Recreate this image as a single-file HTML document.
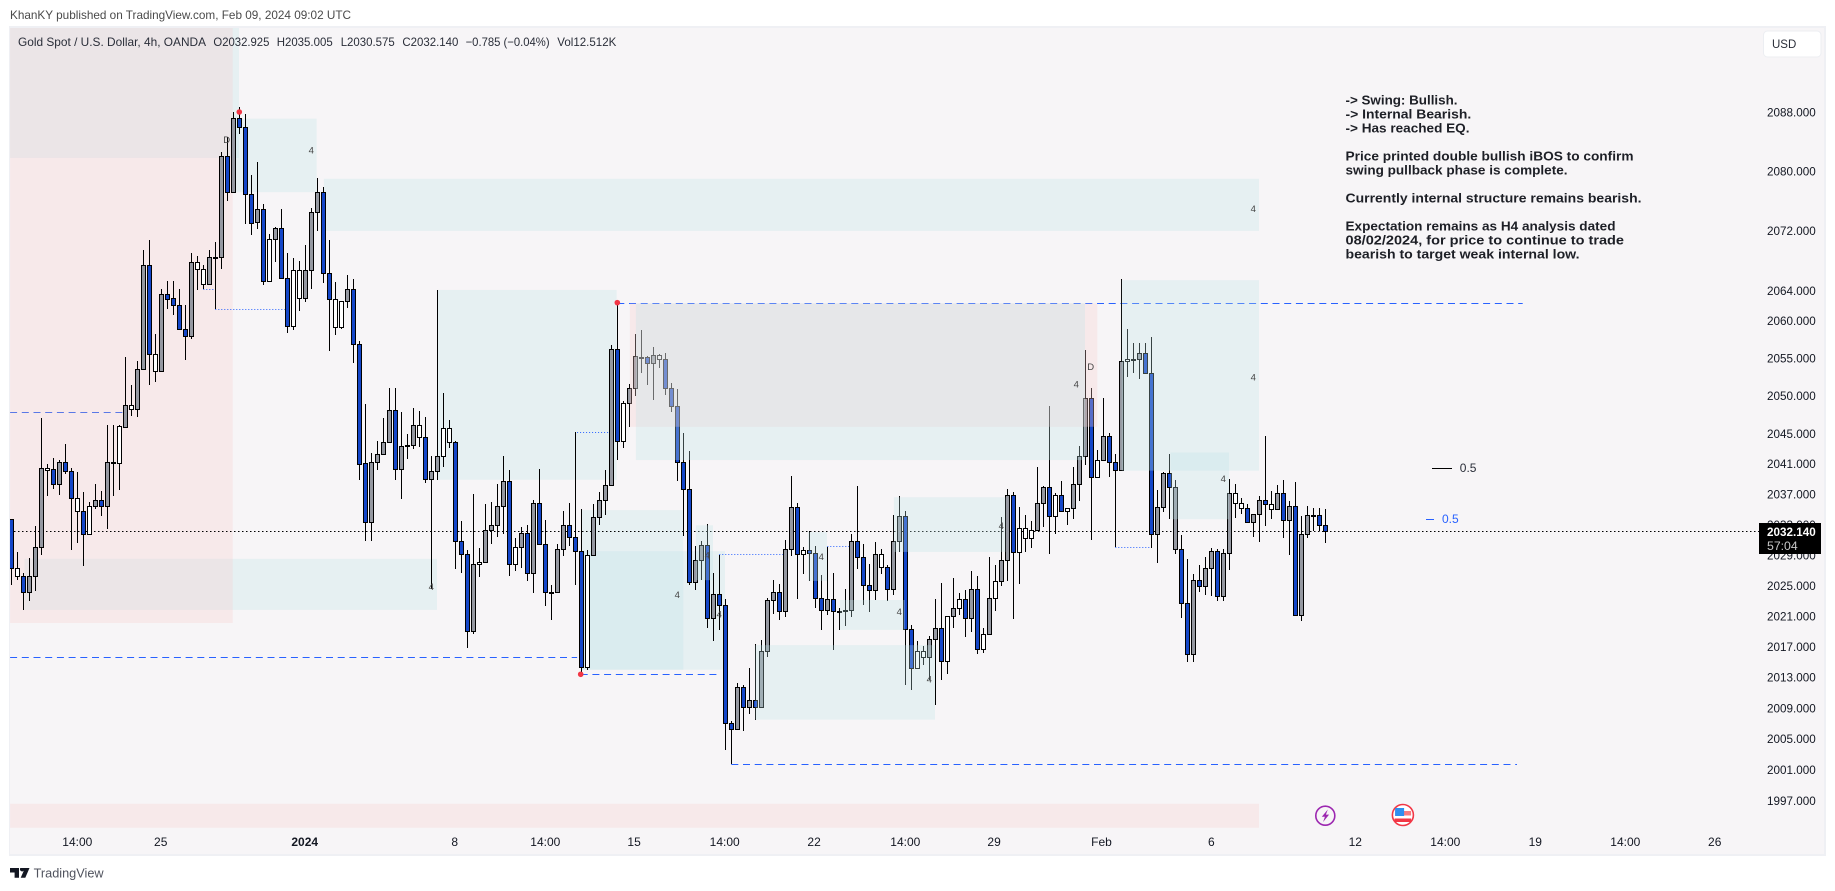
<!DOCTYPE html>
<html lang="en">
<head>
<meta charset="utf-8">
<title>Gold Spot / U.S. Dollar 4h chart</title>
<style>
html,body{margin:0;padding:0;background:#fff;width:1835px;height:891px;overflow:hidden}
svg{display:block}
text{font-family:"Liberation Sans",sans-serif}
</style>
</head>
<body>
<svg id="chart" xmlns="http://www.w3.org/2000/svg" width="1835" height="891" viewBox="0 0 1835 891">
  <defs><clipPath id="plot-clip"><rect x="10" y="28" width="1749" height="826"/></clipPath></defs>
  <rect x="0" y="0" width="1835" height="891" fill="#ffffff"/>
  <text x="10" y="19" font-size="12" fill="#4a4a4a" textLength="341" lengthAdjust="spacingAndGlyphs">KhanKY published on TradingView.com, Feb 09, 2024 09:02 UTC</text>
  <rect x="9" y="26" width="1817" height="830" fill="#eff0f4"/>
  <rect x="10" y="28" width="1814" height="826" fill="#f7f5f7"/>
  <g id="zones-back" clip-path="url(#plot-clip)"></g>
  <g id="price-line" clip-path="url(#plot-clip)"></g>
  <g id="guides" clip-path="url(#plot-clip)"></g>
  <g id="candles" clip-path="url(#plot-clip)"></g>
  <g id="zones-front" clip-path="url(#plot-clip)"></g>
  <g id="swings" clip-path="url(#plot-clip)"></g>
  <g id="markers" clip-path="url(#plot-clip)"></g>

  <g font-size="12" fill="#2a2e39">
    <text x="18" y="46" textLength="188" lengthAdjust="spacingAndGlyphs">Gold Spot / U.S. Dollar, 4h, OANDA</text>
    <text x="213.4" y="46" textLength="56" lengthAdjust="spacingAndGlyphs">O2032.925</text>
    <text x="276.7" y="46" textLength="56" lengthAdjust="spacingAndGlyphs">H2035.005</text>
    <text x="340.7" y="46" textLength="54" lengthAdjust="spacingAndGlyphs">L2030.575</text>
    <text x="402.4" y="46" textLength="56" lengthAdjust="spacingAndGlyphs">C2032.140</text>
    <text x="465.6" y="46" textLength="84" lengthAdjust="spacingAndGlyphs">−0.785 (−0.04%)</text>
    <text x="557.3" y="46" textLength="59" lengthAdjust="spacingAndGlyphs">Vol12.512K</text>
  </g>

  <g font-size="12.5" font-weight="bold" fill="#1d1f26">
    <text x="1345.5" y="104.5" textLength="112" lengthAdjust="spacingAndGlyphs">-&gt; Swing: Bullish.</text>
    <text x="1345.5" y="118.5" textLength="125.7" lengthAdjust="spacingAndGlyphs">-&gt; Internal Bearish.</text>
    <text x="1345.5" y="132.5" textLength="124" lengthAdjust="spacingAndGlyphs">-&gt; Has reached EQ.</text>
    <text x="1345.5" y="160.5" textLength="288" lengthAdjust="spacingAndGlyphs">Price printed double bullish iBOS to confirm</text>
    <text x="1345.5" y="174.5" textLength="222" lengthAdjust="spacingAndGlyphs">swing pullback phase is complete.</text>
    <text x="1345.5" y="202.5" textLength="296" lengthAdjust="spacingAndGlyphs">Currently internal structure remains bearish.</text>
    <text x="1345.5" y="230.5" textLength="270" lengthAdjust="spacingAndGlyphs">Expectation remains as H4 analysis dated</text>
    <text x="1345.5" y="244.5" textLength="278.5" lengthAdjust="spacingAndGlyphs">08/02/2024, for price to continue to trade</text>
    <text x="1345.5" y="258.5" textLength="234" lengthAdjust="spacingAndGlyphs">bearish to target weak internal low.</text>
  </g>

  <g>
    <rect x="1432" y="468" width="20" height="1" fill="#000"/>
    <text x="1459.8" y="472" font-size="12" fill="#2a2e39">0.5</text>
  </g>
  <g>
    <rect x="1426" y="519" width="8" height="1" fill="#2962ff"/>
    <text x="1442" y="523" font-size="12" fill="#2962ff">0.5</text>
  </g>

  <g id="y-axis"></g>
  <g id="x-axis"></g>

  <g>
    <rect x="1759" y="523" width="62" height="31" fill="#000"/>
    <text x="1767" y="536" font-size="12" font-weight="bold" fill="#fff" textLength="48.7" lengthAdjust="spacingAndGlyphs">2032.140</text>
    <text x="1767" y="550" font-size="12" fill="#c8c8c8" textLength="30.7" lengthAdjust="spacingAndGlyphs">57:04</text>
  </g>

  <g>
    <rect x="1763.5" y="31" width="57.5" height="26" rx="4" fill="#ffffff" stroke="#eceef2"/>
    <text x="1772" y="48" font-size="11.5" fill="#2a2e39">USD</text>
  </g>

  <g>
    <circle cx="1325.3" cy="815.7" r="9.5" fill="#f7f5f7" stroke="#9c27b0" stroke-width="1.6"/>
    <polygon points="1327.8,809.5 1321.8,816.8 1324.9,816.8 1323.1,822 1329.1,814.6 1325.9,814.6" fill="#9c27b0"/>
  </g>
  <g>
    <circle cx="1402.9" cy="815" r="10.5" fill="#ffffff" stroke="#f23645" stroke-width="1.6"/>
    <rect x="1395.1" y="811" width="16" height="4.5" fill="#f77c80"/>
    <rect x="1394.6" y="818.5" width="16.5" height="3.5" fill="#f23645"/>
    <rect x="1395.1" y="808" width="9" height="8" fill="#2f8ff0"/>
  </g>

  <g>
    <path d="M10 868h9v9.7h-4.4v-5.2H10zM20.3 868h9.2l-4.2 9.7h-4.6l3.2-7.2a2 2 0 0 1-3.6-2.5z" fill="#131722"/>
    <text x="33.6" y="877.5" font-size="13" fill="#50535e" textLength="70" lengthAdjust="spacingAndGlyphs">TradingView</text>
  </g>
</svg>
<script>
// ---- price data, one value per 4h bar ----
const open = [
2033.7,2026.2,2026.2,2024.2,2026.3,2030.0,2040.2,2040.3,2038.3,2041.3,
2040.0,2034.8,2034.8,2031.7,2035.5,2036.2,2035.5,2041.1,2041.1,2045.9,
2048.3,2048.3,2053.5,2067.4,2053.3,2053.3,2063.5,2063.0,2062.1,2058.9,
2058.0,2066.9,2064.9,2064.9,2068.4,2068.5,2082.0,2077.2,2087.2,2086.0,
2077.0,2073.2,2074.9,2065.3,2070.9,2072.4,2065.7,2059.3,2063.0,2063.0,
2066.7,2074.6,2077.2,2066.3,2059.1,2059.1,2062.6,2064.2,2056.9,2041.1,
2033.4,2041.3,2042.3,2043.9,2048.1,2040.3,2043.4,2043.5,2044.5,2044.5,
2039.0,2040.0,2042.0,2043.9,2043.9,2030.8,2029.1,2019.0,2027.8,2028.1,
2032.3,2032.9,2035.5,2038.7,2027.8,2030.0,2031.9,2026.7,2035.8,2030.4,
2024.1,2024.2,2029.8,2033.0,2031.3,2029.5,2014.4,2029.0,2034.0,2036.2,
2038.2,2056.2,2044.0,2049.1,2051.1,2055.1,2055.1,2054.3,2054.9,2054.9,
2051.0,2048.6,2041.3,2037.7,2025.4,2028.4,2030.3,2020.7,2023.9,2022.5,
2007.0,2006.3,2011.7,2009.2,2010.1,2009.1,2016.4,2023.1,2024.1,2021.6,
2029.8,2035.3,2029.1,2029.6,2029.2,2023.3,2021.8,2023.2,2021.5,2021.7,
2021.8,2030.8,2028.8,2025.0,2024.4,2027.4,2027.4,2024.5,2030.9,2034.1,
2019.3,2014.2,2015.6,2015.6,2018.0,2019.4,2015.1,2021.0,2022.0,2023.2,
2020.8,2024.6,2016.7,2018.6,2023.3,2025.6,2028.4,2036.9,2029.4,2031.2,
2031.2,2032.3,2035.8,2037.9,2034.1,2036.9,2034.8,2035.2,2038.3,2042.0,
2049.7,2039.3,2041.5,2044.7,2041.2,2040.2,2054.6,2054.8,2054.9,2055.7,
2053.1,2031.7,2035.3,2039.8,2029.8,2029.8,2022.7,2016.0,2025.7,2024.9,
2027.3,2029.5,2023.6,2029.2,2035.9,2035.2,2035.2,2033.4,2034.4,2036.2,
2035.0,2035.0,2037.2,2033.6,2035.4,2021.1,2031.7,2034.1,2034.2,2032.925];
const high = [
2033.7,2029.4,2026.6,2028.6,2032.8,2047.1,2041.0,2041.8,2041.5,2043.6,
2040.4,2039.9,2037.3,2036.0,2038.3,2037.4,2046.1,2046.1,2046.1,2055.2,
2051.4,2054.6,2069.5,2070.8,2058.2,2064.2,2065.3,2065.3,2064.2,2062.1,
2069.1,2068.6,2067.4,2069.5,2070.5,2082.6,2084.6,2088.0,2088.7,2087.7,
2079.5,2081.3,2075.6,2071.6,2072.5,2074.9,2069.0,2068.4,2068.0,2070.1,
2075.1,2079.1,2077.9,2070.8,2065.2,2062.6,2066.1,2065.5,2057.3,2048.9,
2042.4,2044.0,2047.1,2051.0,2051.0,2047.9,2045.0,2048.4,2048.0,2047.2,
2042.0,2064.1,2050.4,2046.8,2044.0,2033.5,2029.7,2037.0,2029.9,2035.7,
2036.0,2038.3,2042.0,2040.2,2031.2,2032.7,2032.9,2036.2,2040.3,2033.6,
2025.1,2030.5,2034.8,2035.8,2045.2,2035.1,2029.7,2035.7,2037.3,2040.2,
2056.8,2062.4,2049.3,2051.6,2058.2,2058.8,2055.3,2056.5,2055.6,2055.7,
2051.7,2050.9,2045.1,2042.7,2030.2,2030.9,2033.1,2026.6,2029.0,2023.2,
2007.3,2012.3,2012.0,2014.2,2017.4,2017.9,2023.4,2025.7,2025.2,2031.0,
2039.4,2035.8,2030.1,2032.1,2030.2,2026.4,2030.1,2026.6,2022.1,2024.5,
2031.8,2038.1,2030.5,2027.8,2030.7,2029.8,2027.7,2034.3,2036.8,2034.8,
2019.8,2017.7,2017.1,2018.4,2023.2,2025.3,2021.0,2026.0,2024.0,2024.4,
2026.9,2026.2,2019.4,2028.8,2027.7,2034.0,2037.7,2037.3,2035.3,2034.3,
2033.5,2040.6,2038.1,2048.7,2037.2,2038.8,2035.2,2040.6,2043.3,2056.1,
2051.0,2042.8,2049.7,2045.1,2042.3,2065.6,2058.9,2057.0,2057.0,2057.0,
2057.8,2037.6,2039.9,2042.3,2038.9,2031.6,2028.5,2026.5,2027.7,2028.7,
2029.9,2029.8,2029.8,2039.0,2038.3,2036.5,2035.7,2034.4,2036.8,2044.7,
2037.4,2038.2,2038.9,2036.1,2038.6,2034.1,2035.5,2035.2,2035.2,2035.005];
const low = [
2025.1,2025.7,2021.8,2023.0,2024.3,2029.0,2036.8,2037.7,2036.9,2039.7,
2029.7,2030.6,2027.6,2031.7,2035.1,2034.1,2032.4,2036.8,2037.6,2045.9,
2047.3,2047.2,2053.5,2051.4,2051.9,2053.3,2061.6,2060.8,2058.9,2054.7,
2057.6,2064.1,2064.2,2064.7,2061.5,2066.9,2076.0,2077.2,2085.0,2072.9,
2071.5,2072.3,2064.8,2065.3,2067.8,2065.7,2058.4,2058.7,2061.3,2062.5,
2064.2,2072.0,2065.0,2056.0,2058.1,2058.9,2061.7,2054.4,2038.9,2030.8,
2030.8,2040.2,2042.3,2043.9,2038.9,2036.4,2041.6,2043.0,2043.2,2038.5,
2024.6,2038.9,2040.6,2043.1,2027.2,2026.6,2016.8,2018.6,2026.1,2028.1,
2030.5,2031.4,2031.8,2026.2,2026.9,2027.3,2025.6,2024.0,2030.3,2022.3,
2020.5,2024.2,2028.9,2030.2,2025.1,2013.7,2014.0,2029.0,2032.9,2034.3,
2038.2,2041.5,2043.1,2045.9,2050.0,2053.1,2051.5,2049.4,2053.7,2050.1,
2047.8,2038.8,2031.5,2025.1,2024.4,2025.7,2019.5,2017.8,2019.2,2003.5,
2001.8,2006.3,2006.0,2008.2,2007.5,2009.1,2015.7,2021.3,2020.5,2020.9,
2028.9,2023.2,2026.5,2025.6,2022.0,2019.2,2021.1,2016.6,2019.2,2019.7,
2020.9,2027.2,2022.4,2021.5,2023.1,2026.5,2023.0,2023.8,2029.4,2012.0,
2011.3,2014.2,2014.6,2012.7,2009.4,2012.6,2013.4,2019.4,2021.1,2018.3,
2018.9,2016.1,2016.2,2018.6,2021.7,2024.9,2025.6,2020.6,2025.2,2029.4,
2029.9,2032.3,2032.7,2029.1,2031.8,2034.8,2032.9,2033.7,2036.1,2040.9,
2031.0,2039.3,2041.5,2039.2,2030.0,2040.2,2052.5,2053.1,2052.2,2052.9,
2029.9,2028.0,2034.6,2033.7,2029.1,2020.8,2015.0,2015.0,2024.2,2023.8,
2023.6,2023.0,2023.0,2027.0,2033.9,2034.4,2033.4,2031.4,2030.7,2032.8,
2033.7,2035.0,2031.2,2029.0,2021.1,2020.3,2031.2,2032.2,2032.2,2030.575];
const close = [
2027.3,2027.3,2024.2,2026.3,2030.0,2040.4,2040.4,2038.3,2041.3,2040.0,
2036.5,2036.5,2031.7,2035.5,2036.2,2035.5,2041.3,2041.3,2046.0,2048.8,
2048.8,2053.5,2067.4,2055.5,2055.5,2063.5,2062.9,2062.1,2058.9,2058.0,
2067.8,2067.8,2066.9,2068.5,2068.5,2082.0,2077.2,2087.2,2086.0,2077.0,
2073.1,2074.9,2065.3,2070.9,2072.4,2065.7,2059.3,2066.7,2066.7,2066.7,
2074.6,2077.2,2066.3,2062.9,2062.9,2062.6,2064.2,2056.9,2041.0,2033.4,
2041.3,2042.3,2043.9,2048.1,2040.3,2043.3,2043.5,2046.2,2046.2,2039.0,
2040.0,2042.0,2045.7,2045.7,2030.8,2029.1,2019.0,2027.8,2028.1,2032.3,
2032.9,2035.5,2038.7,2027.8,2030.0,2031.9,2026.7,2035.8,2030.4,2024.1,
2024.2,2029.8,2033.0,2031.3,2029.5,2014.4,2029.0,2034.0,2036.2,2038.2,
2056.2,2044.0,2049.1,2051.1,2055.3,2055.2,2054.3,2055.4,2055.4,2051.0,
2048.6,2041.3,2037.7,2025.4,2028.4,2030.3,2020.7,2023.9,2022.5,2007.0,
2006.3,2011.7,2009.2,2010.1,2009.1,2016.4,2023.1,2024.1,2021.6,2029.8,
2035.3,2029.1,2029.6,2029.2,2023.3,2021.8,2023.2,2021.6,2021.6,2021.8,
2030.8,2028.8,2025.0,2024.4,2029.1,2029.1,2024.5,2030.9,2034.1,2019.3,
2014.2,2016.4,2016.4,2018.0,2019.4,2015.1,2021.0,2022.0,2023.2,2020.8,
2024.6,2016.7,2018.6,2023.3,2025.6,2028.4,2036.9,2029.4,2032.5,2032.5,
2032.3,2035.8,2037.9,2034.1,2036.9,2034.8,2035.2,2038.3,2042.0,2049.7,
2039.3,2041.5,2044.7,2041.2,2040.2,2054.6,2054.9,2054.9,2055.7,2053.1,
2031.7,2035.3,2039.8,2038.0,2038.0,2022.7,2016.0,2025.7,2024.9,2027.3,
2029.5,2023.6,2029.2,2037.1,2037.1,2035.9,2033.4,2034.4,2036.2,2035.7,
2035.7,2037.2,2033.6,2035.4,2021.1,2031.7,2034.2,2034.2,2032.9,2032.14];
// up-bar tint by bar: g = grey body, w = white body (down bars are always blue)
const upTint = ("bwbgggwbgb"+"bwbwgbgwwg"+"wggbwgbbbb"+"gwwgwgbgbb"+"bgbwgbbwwg"+"ggbbwwgbbb"+
  "ggggbgwgwb"+"ggwwbbbgwg"+"gggbwgbgbb"+"wggbbbwggg"+"gbwggwbgwb"+"bbbbggbgbb"+"bgbgbgggbg"+
  "gbwbbbgbww"+"gbbbgwbggb"+"bwwggbwgwb"+"gbwgwggbww"+"wggbwbwggg"+"bwgbbgwwgb"+"bggbgbbgbg"+
  "gbggwwbggb"+"wgbgbggwbb").split("");

// ---- axis labels ----
const priceTicks = [2088,2080,2072,2064,2060,2055,2050,2045,2041,2037,2033,2029,2025,2021,2017,2013,2009,2005,2001,1997];
const timeLabels = ["14:00","25","2024","8","14:00","15","14:00","22","14:00","29","Feb","6","12","14:00","19","14:00","26"];
const timeLabelBars = [11,24.9,48.9,73.9,89,103.8,118.9,133.8,149,163.8,181.7,200,224,239,254,269,283.9];
const timeLabelBold = ["2024"];
const lastPrice = 2032.14;

// ---- supply/demand zones, in bars and prices ----
const zoneStart  = [-0.2,36.9,52.1,70.95,2.2,94.95,94.95,-0.2,-0.2, 103.1,104.1,185.07,193.2,114.1,124,138.1,147.1,132.8];
const zoneEnd    = [37.95,50.9,207.95,100.9,70.95,112,118.95,36.9,207.95, 181,178.95,207.95,202.95,116.95,153.95,148.95,165.7,135.95];
const zoneTop    = [2099.5,2087.1,2079.0,2064.1,2028.5,2034.9,2029.5,2099.5,1996.6, 2062.3,2062.3,2065.4,2042.5,2032.9,2017.2,2023.1,2036.6,2032.0];
const zoneBottom = [2081.8,2077.2,2072.0,2038.9,2021.8,2014.0,2014.0,2020.1,1993.5, 2045.9,2041.5,2040.1,2033.7,2025.7,2007.5,2019.2,2029.4,2025.6];
const zoneKind   = ["teal","teal","teal","teal","teal","teal","teal","pink","pink", "pink","teal","teal","teal","teal","teal","teal","teal","teal"];
const zoneLayer  = ["back","back","back","back","back","back","back","back","back", "front","front","front","front","front","front","front","front","front"];

// ---- break-of-structure lines ----
const dashedStart = [-0.2,-0.2,94.9,101,120];
const dashedEnd   = [18.6,94.3,117.9,251.9,250.95];
const dashedPrice = [2047.9,2015.6,2013.4,2062.3,2001.8];
const dottedStart = [32,34,94.3,118,136,184];
const dottedEnd   = [33.7,45.6,99.7,128.7,139.7,189.7];
const dottedPrice = [2064.2,2061.5,2045.2,2029.1,2030.2,2030.0];

// ---- swing points ----
const swingBars = [38,101,94.9];
const swingPrices = [2088.0,2062.4,2013.4];

// ---- timeframe markers ----
const markerText = ["4","D","4","4","4","4","4","4","4","4","4","4","4","D","4"];
const markerBars = [50,35.9,207,207,70,111,116,118,135,148,153,165,177.5,179.9,202];
const markerPrices = [2082.9,2084.3,2075.0,2052.5,2024.9,2023.8,2029.0,2021.3,2028.8,2021.6,2012.8,2032.9,2051.6,2053.9,2039.1];

// ---- axis functions ----
const SVG_NS = "http://www.w3.org/2000/svg";
function xOf(bar){ return 11.3 + 6 * bar; }
function yOf(price){ return 112 + 15455 * Math.log(2088 / price); }
function make(tag, parent){ const n = document.createElementNS(SVG_NS, tag); parent.appendChild(n); return n; }

const zoneFill = { teal: "rgba(188,228,230,0.29)", pink: "rgba(249,204,202,0.29)" };
const bodyFill = { g: "#9598a1", w: "#ffffff", b: "#1446c8" };

// zones
zoneStart.forEach(function(start, k){
  const host = document.getElementById(zoneLayer[k] === "back" ? "zones-back" : "zones-front");
  const el = make("rect", host);
  
  
  el.setAttribute("x", xOf(start));
  el.setAttribute("y", yOf(zoneTop[k]));
  el.setAttribute("width", xOf(zoneEnd[k]) - xOf(start));
  el.setAttribute("height", yOf(zoneBottom[k]) - yOf(zoneTop[k]));
  el.setAttribute("fill", zoneFill[zoneKind[k]]);
});

// current price line
(function(){
  const el = make("line", document.getElementById("price-line"));
  
  
  const y = Math.round(yOf(lastPrice)) + 0.5;
  el.setAttribute("x1", 10); el.setAttribute("x2", 1759);
  el.setAttribute("y1", y); el.setAttribute("y2", y);
  el.setAttribute("stroke", "#000"); el.setAttribute("stroke-width", "1");
  el.setAttribute("stroke-dasharray", "1.5 2.5");
})();

// dashed structure lines
dashedStart.forEach(function(start, k){
  const el = make("line", document.getElementById("guides"));
  
  
  const y = Math.round(yOf(dashedPrice[k])) + 0.5;
  el.setAttribute("x1", xOf(start)); el.setAttribute("x2", xOf(dashedEnd[k]));
  el.setAttribute("y1", y); el.setAttribute("y2", y);
  el.setAttribute("stroke", k === 0 ? "#5a78e6" : "#2962ff");
  el.setAttribute("stroke-width", "1");
  el.setAttribute("stroke-dasharray", "7 4.7");
});

// dotted iBOS lines
dottedStart.forEach(function(start, k){
  const el = make("line", document.getElementById("guides"));
  
  
  const y = Math.round(yOf(dottedPrice[k])) + 0.5;
  el.setAttribute("x1", xOf(start)); el.setAttribute("x2", xOf(dottedEnd[k]));
  el.setAttribute("y1", y); el.setAttribute("y2", y);
  el.setAttribute("stroke", "#2962ff");
  el.setAttribute("stroke-width", "1");
  el.setAttribute("stroke-dasharray", "1 2");
});

// candles
open.forEach(function(o, i){
  const c = close[i];
  const col = Math.floor(xOf(i));
  const g = make("g", document.getElementById("candles"));
  
  
  const wick = make("rect", g);
  
  
  const yH = Math.round(yOf(high[i])), yL = Math.round(yOf(low[i]));
  wick.setAttribute("x", col);
  wick.setAttribute("y", yH);
  wick.setAttribute("width", 1);
  wick.setAttribute("height", Math.max(1, yL - yH));
  wick.setAttribute("fill", "#000");
  const body = make("rect", g);
  
  
  const yT = Math.round(yOf(Math.max(o, c))), yB = Math.round(yOf(Math.min(o, c)));
  body.setAttribute("x", col - 1.5);
  body.setAttribute("y", yT + 0.5);
  body.setAttribute("width", 4);
  body.setAttribute("height", Math.max(1, yB - yT));
  body.setAttribute("fill", c < o ? bodyFill.b : bodyFill[upTint[i] === "b" ? "g" : upTint[i]]);
  body.setAttribute("stroke", "#000");
  body.setAttribute("stroke-width", "1");
  body.setAttribute("shape-rendering", "crispEdges");
  wick.setAttribute("shape-rendering", "crispEdges");
});

// swing dots
swingBars.forEach(function(bar, k){
  const el = make("circle", document.getElementById("swings"));
  
  
  el.setAttribute("cx", xOf(bar));
  el.setAttribute("cy", yOf(swingPrices[k]));
  el.setAttribute("r", 2.8);
  el.setAttribute("fill", "#f23645");
});

// small 4 / D markers
markerText.forEach(function(label, k){
  const el = make("text", document.getElementById("markers"));
  
  
  el.setAttribute("x", xOf(markerBars[k]));
  el.setAttribute("y", yOf(markerPrices[k]) + 3.5);
  el.setAttribute("text-anchor", "middle");
  el.setAttribute("font-size", "9.5");
  el.setAttribute("fill", "#444");
  el.textContent = label;
});

// price axis
priceTicks.forEach(function(p){
  const el = make("text", document.getElementById("y-axis"));
  
  
  el.setAttribute("x", 1767);
  el.setAttribute("y", yOf(p) + 4.3);
  el.setAttribute("font-size", "12");
  el.setAttribute("fill", "#131722");
  el.setAttribute("textLength", "48.7");
  el.setAttribute("lengthAdjust", "spacingAndGlyphs");
  el.textContent = p.toFixed(3);
});

// time axis
timeLabels.forEach(function(label, k){
  const el = make("text", document.getElementById("x-axis"));
  
  
  el.setAttribute("x", xOf(timeLabelBars[k]));
  el.setAttribute("y", 846);
  el.setAttribute("text-anchor", "middle");
  el.setAttribute("font-size", "12");
  el.setAttribute("fill", "#131722");
  if (timeLabelBold.indexOf(label) >= 0) el.setAttribute("font-weight", "bold");
  el.textContent = label;
});
</script>
</body>
</html>
